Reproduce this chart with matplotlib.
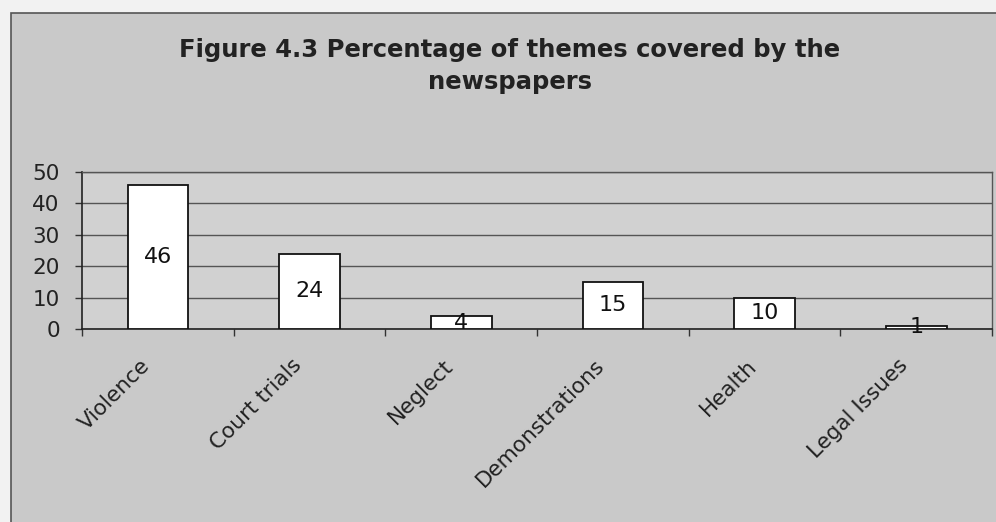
import numpy as np
import matplotlib.pyplot as plt
from matplotlib.patches import Rectangle

themes = ['Violence', 'Court trials', 'Neglect', 'Demonstrations', 'Health', 'Legal Issues']
percent = [46, 24, 4, 15, 10, 1]
y_ticks = [0, 10, 20, 30, 40, 50]

W, H = 996, 522
plt.rcParams['font.family'] = ['DejaVu Sans']

fig = plt.figure(figsize=(W / 100, H / 100), dpi=100)
fig.patch.set_facecolor('#f2f2f2')

# grey chart frame behind everything
frame = Rectangle((11 / W, -0.05), 1.0, 1 - 13 / H + 0.05, transform=fig.transFigure,
                  facecolor='#c9c9c9', edgecolor='#555555', lw=1.2, zorder=-5)
fig.patches.append(frame)

fig.text(510 / W, 1 - 66 / H, 'Figure 4.3 Percentage of themes covered by the\nnewspapers',
         ha='center', va='center', fontsize=17.5, fontweight='bold', color='#222222',
         linespacing=1.4)

ax = fig.add_axes([82 / W, (H - 329) / H, (992 - 82) / W, (329 - 172) / H])
ax.set_facecolor('#d1d1d1')

x = np.arange(len(themes))
ax.bar(x, percent, width=0.4, color='white', edgecolor='#111111', lw=1.3, zorder=3)
for xi, v in zip(x, percent):
    ax.text(xi, v / 2, str(v), ha='center', va='center', fontsize=16, color='#111111', zorder=4)

ax.set_xlim(-0.5, len(themes) - 0.5)
ax.set_ylim(0, 50)
ax.set_yticks(y_ticks)
ax.set_yticklabels([str(t) for t in y_ticks], fontsize=15.5, color='#222222')
ax.yaxis.grid(True, color='#555555', lw=1.0, zorder=1)
ax.tick_params(axis='y', length=5, width=1, color='#333333', pad=11)

# category ticks at the boundaries; labels sit just left of each centre
ax.set_xticks(np.arange(len(themes) + 1) - 0.5)
ax.set_xticklabels([])
ax.set_xticks(x - 0.12, minor=True)
ax.set_xticklabels(themes, minor=True, rotation=45, ha='right', va='top',
                   rotation_mode='anchor', fontsize=15.5, color='#222222')
ax.tick_params(axis='x', which='major', length=5, width=1, color='#333333', direction='out')
ax.tick_params(axis='x', which='minor', length=0, pad=19)

for side in ['left', 'bottom']:
    ax.spines[side].set_color('#222222')
    ax.spines[side].set_linewidth(1.2)
for side in ['top', 'right']:
    ax.spines[side].set_color('#555555')
    ax.spines[side].set_linewidth(1.0)

fig.savefig('out.png', dpi=100, facecolor=fig.get_facecolor())
